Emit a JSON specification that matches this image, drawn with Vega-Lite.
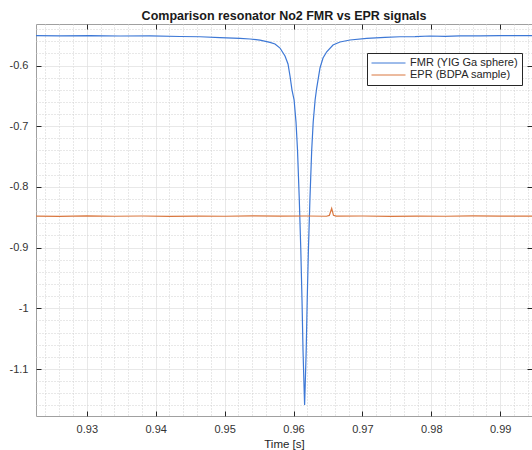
{
  "$schema": "https://vega.github.io/schema/vega-lite/v6.json",
  "width": 496,
  "height": 392,
  "autosize": {"type": "none"},
  "padding": {"left": 36, "top": 24, "right": 0, "bottom": 34},
  "background": "white",
  "title": {"text": "Comparison resonator No2 FMR vs EPR signals", "fontSize": 12.5, "fontWeight": "bold", "font": "Liberation Sans", "color": "#1a1a1a", "offset": 1, "anchor": "middle"},
  "config": {
    "view": {"stroke": "#a0a0a0", "strokeWidth": 1},
    "axis": {"labelFont": "Liberation Sans", "titleFont": "Liberation Sans"}
  },
  "data": {"values": [
    {"series": "FMR (YIG Ga sphere)", "t": 0.922626, "v": -0.5506},
    {"series": "FMR (YIG Ga sphere)", "t": 0.926110, "v": -0.5511},
    {"series": "FMR (YIG Ga sphere)", "t": 0.930464, "v": -0.5506},
    {"series": "FMR (YIG Ga sphere)", "t": 0.934818, "v": -0.5514},
    {"series": "FMR (YIG Ga sphere)", "t": 0.939172, "v": -0.5512},
    {"series": "FMR (YIG Ga sphere)", "t": 0.943527, "v": -0.5522},
    {"series": "FMR (YIG Ga sphere)", "t": 0.946429, "v": -0.5526},
    {"series": "FMR (YIG Ga sphere)", "t": 0.949332, "v": -0.5539},
    {"series": "FMR (YIG Ga sphere)", "t": 0.952235, "v": -0.5552},
    {"series": "FMR (YIG Ga sphere)", "t": 0.953686, "v": -0.5563},
    {"series": "FMR (YIG Ga sphere)", "t": 0.955138, "v": -0.5583},
    {"series": "FMR (YIG Ga sphere)", "t": 0.956589, "v": -0.5618},
    {"series": "FMR (YIG Ga sphere)", "t": 0.957315, "v": -0.5646},
    {"series": "FMR (YIG Ga sphere)", "t": 0.958041, "v": -0.5712},
    {"series": "FMR (YIG Ga sphere)", "t": 0.958766, "v": -0.5843},
    {"series": "FMR (YIG Ga sphere)", "t": 0.959202, "v": -0.5975},
    {"series": "FMR (YIG Ga sphere)", "t": 0.959492, "v": -0.6173},
    {"series": "FMR (YIG Ga sphere)", "t": 0.959782, "v": -0.6404},
    {"series": "FMR (YIG Ga sphere)", "t": 0.960087, "v": -0.6568},
    {"series": "FMR (YIG Ga sphere)", "t": 0.960363, "v": -0.6931},
    {"series": "FMR (YIG Ga sphere)", "t": 0.960581, "v": -0.7392},
    {"series": "FMR (YIG Ga sphere)", "t": 0.960842, "v": -0.8216},
    {"series": "FMR (YIG Ga sphere)", "t": 0.961060, "v": -0.9040},
    {"series": "FMR (YIG Ga sphere)", "t": 0.961234, "v": -0.9863},
    {"series": "FMR (YIG Ga sphere)", "t": 0.961379, "v": -1.0687},
    {"series": "FMR (YIG Ga sphere)", "t": 0.961524, "v": -1.1264},
    {"series": "FMR (YIG Ga sphere)", "t": 0.961611, "v": -1.1593},
    {"series": "FMR (YIG Ga sphere)", "t": 0.961698, "v": -1.1264},
    {"series": "FMR (YIG Ga sphere)", "t": 0.961843, "v": -1.0687},
    {"series": "FMR (YIG Ga sphere)", "t": 0.961988, "v": -0.9863},
    {"series": "FMR (YIG Ga sphere)", "t": 0.962163, "v": -0.9040},
    {"series": "FMR (YIG Ga sphere)", "t": 0.962380, "v": -0.8216},
    {"series": "FMR (YIG Ga sphere)", "t": 0.962642, "v": -0.7392},
    {"series": "FMR (YIG Ga sphere)", "t": 0.962859, "v": -0.6931},
    {"series": "FMR (YIG Ga sphere)", "t": 0.963135, "v": -0.6568},
    {"series": "FMR (YIG Ga sphere)", "t": 0.963367, "v": -0.6371},
    {"series": "FMR (YIG Ga sphere)", "t": 0.963846, "v": -0.6041},
    {"series": "FMR (YIG Ga sphere)", "t": 0.964282, "v": -0.5876},
    {"series": "FMR (YIG Ga sphere)", "t": 0.964819, "v": -0.5773},
    {"series": "FMR (YIG Ga sphere)", "t": 0.965733, "v": -0.5662},
    {"series": "FMR (YIG Ga sphere)", "t": 0.966749, "v": -0.5613},
    {"series": "FMR (YIG Ga sphere)", "t": 0.968200, "v": -0.5580},
    {"series": "FMR (YIG Ga sphere)", "t": 0.970624, "v": -0.5552},
    {"series": "FMR (YIG Ga sphere)", "t": 0.973280, "v": -0.5535},
    {"series": "FMR (YIG Ga sphere)", "t": 0.975457, "v": -0.5526},
    {"series": "FMR (YIG Ga sphere)", "t": 0.977635, "v": -0.5524},
    {"series": "FMR (YIG Ga sphere)", "t": 0.979812, "v": -0.5514},
    {"series": "FMR (YIG Ga sphere)", "t": 0.981989, "v": -0.5519},
    {"series": "FMR (YIG Ga sphere)", "t": 0.984166, "v": -0.5512},
    {"series": "FMR (YIG Ga sphere)", "t": 0.987069, "v": -0.5511},
    {"series": "FMR (YIG Ga sphere)", "t": 0.989972, "v": -0.5506},
    {"series": "FMR (YIG Ga sphere)", "t": 0.994615, "v": -0.5507},
    {"series": "EPR (BDPA sample)", "t": 0.922626, "v": -0.8480},
    {"series": "EPR (BDPA sample)", "t": 0.9260, "v": -0.8484},
    {"series": "EPR (BDPA sample)", "t": 0.9300, "v": -0.8478},
    {"series": "EPR (BDPA sample)", "t": 0.9340, "v": -0.8483},
    {"series": "EPR (BDPA sample)", "t": 0.9380, "v": -0.8479},
    {"series": "EPR (BDPA sample)", "t": 0.9420, "v": -0.8485},
    {"series": "EPR (BDPA sample)", "t": 0.9460, "v": -0.8480},
    {"series": "EPR (BDPA sample)", "t": 0.9500, "v": -0.8483},
    {"series": "EPR (BDPA sample)", "t": 0.9540, "v": -0.8478},
    {"series": "EPR (BDPA sample)", "t": 0.9580, "v": -0.8482},
    {"series": "EPR (BDPA sample)", "t": 0.9620, "v": -0.8479},
    {"series": "EPR (BDPA sample)", "t": 0.9648, "v": -0.8483},
    {"series": "EPR (BDPA sample)", "t": 0.9652, "v": -0.8470},
    {"series": "EPR (BDPA sample)", "t": 0.96554, "v": -0.8355},
    {"series": "EPR (BDPA sample)", "t": 0.9658, "v": -0.8468},
    {"series": "EPR (BDPA sample)", "t": 0.9662, "v": -0.8482},
    {"series": "EPR (BDPA sample)", "t": 0.9700, "v": -0.8479},
    {"series": "EPR (BDPA sample)", "t": 0.9740, "v": -0.8484},
    {"series": "EPR (BDPA sample)", "t": 0.9780, "v": -0.8480},
    {"series": "EPR (BDPA sample)", "t": 0.9820, "v": -0.8483},
    {"series": "EPR (BDPA sample)", "t": 0.9860, "v": -0.8478},
    {"series": "EPR (BDPA sample)", "t": 0.9900, "v": -0.8482},
    {"series": "EPR (BDPA sample)", "t": 0.994615, "v": -0.8480}
  ]},
  "layer": [
    {
      "transform": [{"filter": "datum.series == 'FMR (YIG Ga sphere)'"}],
      "mark": {"type": "line", "strokeWidth": 1.2, "clip": true},
      "encoding": {
        "x": {
          "field": "t", "type": "quantitative",
          "scale": {"domain": [0.922626, 0.994615], "nice": false, "zero": false},
          "axis": {
            "orient": "bottom",
            "values": [0.924, 0.926, 0.928, 0.93, 0.932, 0.934, 0.936, 0.938, 0.94, 0.942, 0.944, 0.946, 0.948, 0.95, 0.952, 0.954, 0.956, 0.958, 0.96, 0.962, 0.964, 0.966, 0.968, 0.97, 0.972, 0.974, 0.976, 0.978, 0.98, 0.982, 0.984, 0.986, 0.988, 0.99, 0.992, 0.994],
            "labelExpr": "abs(datum.value*100 - round(datum.value*100)) < 0.001 ? '' + round(datum.value*100)/100 : ''",
            "labelFontSize": 11, "labelColor": "#333333", "labelPadding": 12,
            "labelOverlap": false, "labelBound": false, "labelFlush": false,
            "title": "Time [s]", "titleFontSize": 11.5, "titleFontWeight": "normal", "titleColor": "#262626", "titlePadding": 4,
            "domain": false,
            "tickSize": -5, "tickColor": "#262626",
            "tickOpacity": {"condition": {"test": "abs(datum.value*100 - round(datum.value*100)) < 0.001", "value": 1}, "value": 0},
            "grid": true,
            "gridColor": {"condition": {"test": "abs(datum.value*100 - round(datum.value*100)) < 0.001", "value": "#e0e0e0"}, "value": "#d0d0d0"},
            "gridDash": {"condition": {"test": "abs(datum.value*100 - round(datum.value*100)) < 0.001", "value": [1, 0]}, "value": [1, 2]}
          }
        },
        "y": {
          "field": "v", "type": "quantitative",
          "scale": {"domain": [-1.1774, -0.5316], "nice": false, "zero": false},
          "axis": {
            "orient": "left",
            "values": [-0.54, -0.56, -0.58, -0.6, -0.62, -0.64, -0.66, -0.68, -0.7, -0.72, -0.74, -0.76, -0.78, -0.8, -0.82, -0.84, -0.86, -0.88, -0.9, -0.92, -0.94, -0.96, -0.98, -1, -1.02, -1.04, -1.06, -1.08, -1.1, -1.12, -1.14, -1.16],
            "labelExpr": "abs(datum.value*10 - round(datum.value*10)) < 0.001 ? '' + round(datum.value*10)/10 : ''",
            "labelFontSize": 11, "labelColor": "#333333", "labelPadding": 13,
            "labelOverlap": false, "labelBound": false, "labelFlush": false,
            "title": null,
            "domain": false,
            "tickSize": -5, "tickColor": "#262626",
            "tickOpacity": {"condition": {"test": "abs(datum.value*10 - round(datum.value*10)) < 0.001", "value": 1}, "value": 0},
            "grid": true,
            "gridColor": {"condition": {"test": "abs(datum.value*10 - round(datum.value*10)) < 0.001", "value": "#e0e0e0"}, "value": "#d0d0d0"},
            "gridDash": {"condition": {"test": "abs(datum.value*10 - round(datum.value*10)) < 0.001", "value": [1, 0]}, "value": [1, 2]}
          }
        },
        "color": {
          "field": "series", "type": "nominal",
          "scale": {"domain": ["FMR (YIG Ga sphere)", "EPR (BDPA sample)"], "range": ["#3d78d6", "#d9773f"]},
          "legend": {
            "orient": "none", "legendX": 331, "legendY": 29,
            "title": null, "symbolType": "stroke", "symbolSize": 1156, "symbolStrokeWidth": 1,
            "clipHeight": 12, "labelFontSize": 11, "labelFont": "Liberation Sans", "labelColor": "#262626",
            "strokeColor": "#262626", "fillColor": "white", "padding": 4, "rowPadding": 0, "labelOffset": 4
          }
        }
      }
    },
    {
      "transform": [{"filter": "datum.series == 'EPR (BDPA sample)'"}],
      "mark": {"type": "line", "strokeWidth": 1.2, "clip": true},
      "encoding": {
        "x": {
          "field": "t", "type": "quantitative",
          "scale": {"domain": [0.922626, 0.994615], "nice": false, "zero": false},
          "axis": {"orient": "top", "values": [0.93, 0.94, 0.95, 0.96, 0.97, 0.98, 0.99], "labels": false, "title": null, "domain": false, "grid": false, "tickSize": -5, "tickColor": "#262626"}
        },
        "y": {
          "field": "v", "type": "quantitative",
          "scale": {"domain": [-1.1774, -0.5316], "nice": false, "zero": false},
          "axis": {"orient": "right", "values": [-0.6, -0.7, -0.8, -0.9, -1, -1.1], "labels": false, "title": null, "domain": false, "grid": false, "tickSize": -5, "tickColor": "#262626"}
        },
        "color": {"field": "series", "type": "nominal"}
      }
    }
  ],
  "resolve": {"axis": {"x": "independent", "y": "independent"}}
}
